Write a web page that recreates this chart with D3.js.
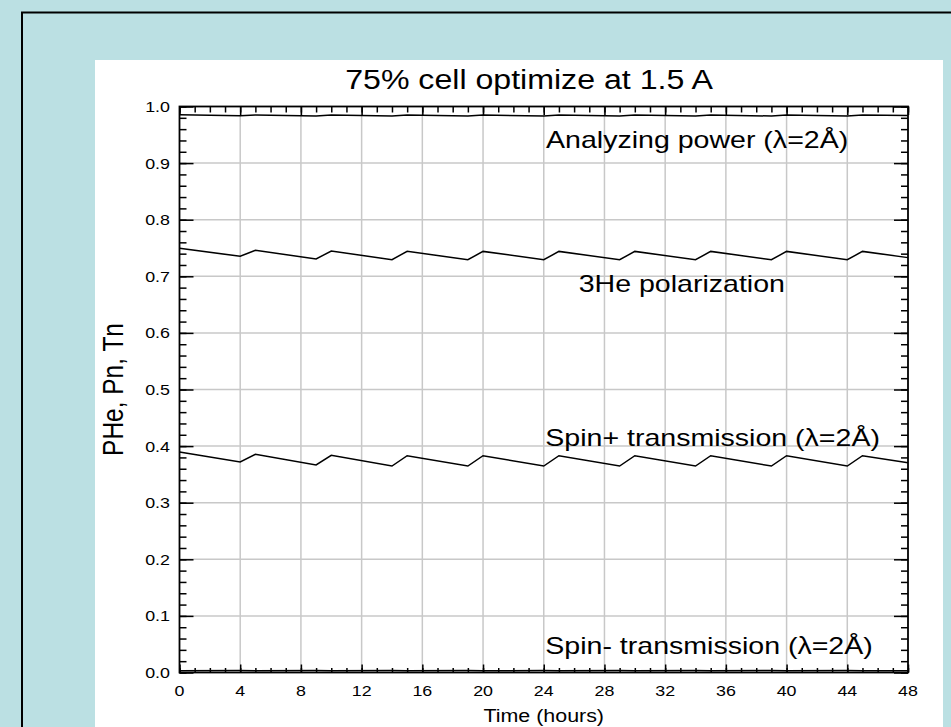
<!DOCTYPE html>
<html><head><meta charset="utf-8">
<script src="https://cdn.jsdelivr.net/npm/d3@7"></script>
<style>
html,body{margin:0;padding:0;background:#bbe0e3;overflow:hidden;}
svg{display:block;}
text{font-family:"Liberation Sans",Arial,sans-serif;fill:#000;}
</style></head>
<body>
<svg id="chart" width="951" height="727"></svg>
<script>
// ---- data ----
const hours          = [0, 4, 5, 9, 10, 14, 15, 19, 20, 24, 25, 29, 30, 34, 35, 39, 40, 44, 45, 48];
const heliumPol      = [0.7495, 0.7353, 0.7460, 0.7306, 0.7447, 0.7293, 0.7442, 0.7293, 0.7440, 0.7292, 0.7440, 0.7292, 0.7440, 0.7292, 0.7440, 0.7292, 0.7440, 0.7292, 0.7440, 0.7330];
const spinPlus       = [0.3896, 0.3719, 0.3855, 0.3666, 0.3837, 0.3648, 0.3830, 0.3648, 0.3830, 0.3648, 0.3830, 0.3648, 0.3830, 0.3648, 0.3830, 0.3648, 0.3830, 0.3648, 0.3830, 0.3705];
const analyzingPower = [0.9856, 0.9838, 0.9852, 0.9834, 0.9850, 0.9832, 0.9850, 0.9832, 0.9850, 0.9832, 0.9850, 0.9832, 0.9850, 0.9832, 0.9850, 0.9832, 0.9850, 0.9832, 0.9850, 0.9840];
const spinMinus      = [0.0030, 0.0034, 0.0031, 0.0035, 0.0031, 0.0035, 0.0031, 0.0035, 0.0031, 0.0035, 0.0031, 0.0035, 0.0031, 0.0035, 0.0031, 0.0035, 0.0031, 0.0035, 0.0031, 0.0033];
const xTicks = [0, 4, 8, 12, 16, 20, 24, 28, 32, 36, 40, 44, 48];
const yTicks = [0.0, 0.1, 0.2, 0.3, 0.4, 0.5, 0.6, 0.7, 0.8, 0.9, 1.0];
const seriesLabels = [
  {text: "Analyzing power (\u03bb=2\u00c5)", t: 24.15, v: 0.927},
  {text: "3He polarization",              t: 26.3,  v: 0.673},
  {text: "Spin+ transmission (\u03bb=2\u00c5)", t: 24.1, v: 0.400},
  {text: "Spin- transmission (\u03bb=2\u00c5)", t: 24.1, v: 0.0325}
];
const titleText = "75% cell optimize at 1.5 A";
const xTitle = "Time (hours)";
const yTitle = "PHe, Pn, Tn";

// ---- layout ----
const SX = 1.19; // horizontal glyph stretch seen in the reference
const svg = d3.select("#chart");
const x = d3.scaleLinear().domain([0, 48]).range([179.5, 908]);
const y = d3.scaleLinear().domain([0, 1]).range([672.5, 106.5]);

// frame & panel
svg.append("rect").attr("x", 0).attr("y", 0).attr("width", 951).attr("height", 727).attr("fill", "#bbe0e3");
svg.append("rect").attr("x", 22).attr("y", 12.5).attr("width", 1000).attr("height", 1000)
  .attr("fill", "none").attr("stroke", "#000").attr("stroke-width", 2);
svg.append("rect").attr("x", 95).attr("y", 60).attr("width", 848).attr("height", 700).attr("fill", "#fff");

const plot = svg.append("g");

// gridlines
plot.append("g").selectAll("line.vx").data(xTicks.slice(1, -1)).join("line")
  .attr("x1", d => x(d)).attr("x2", d => x(d)).attr("y1", y(0)).attr("y2", y(1))
  .attr("stroke", "#c8c8c8").attr("stroke-width", 1.5);
plot.append("g").selectAll("line.hy").data(yTicks.slice(1, -1)).join("line")
  .attr("x1", x(0)).attr("x2", x(48)).attr("y1", d => y(d)).attr("y2", d => y(d))
  .attr("stroke", "#c8c8c8").attr("stroke-width", 1.5);

// curves
const line = d3.line().x((d, i) => x(hours[i])).y(d => y(d));
[analyzingPower, heliumPol, spinPlus, spinMinus].forEach(s => {
  plot.append("path").datum(s).attr("d", line)
    .attr("fill", "none").attr("stroke", "#000").attr("stroke-width", 1.5).attr("stroke-linejoin", "miter");
});

// axes (inward ticks)
function styleAxis(g) {
  g.select(".domain").remove();
  g.selectAll(".tick line").attr("stroke", "#000").attr("stroke-width", 1.5);
  g.selectAll(".tick text").remove();
}
const minorX = x.ticks(48), minorY = y.ticks(50);
plot.append("g").attr("transform", `translate(0,${y(0)})`)
  .call(d3.axisBottom(x).tickValues(minorX).tickSize(-4.5)).call(styleAxis);
plot.append("g").attr("transform", `translate(0,${y(0)})`)
  .call(d3.axisBottom(x).tickValues(xTicks).tickSize(-8)).call(styleAxis);
plot.append("g").attr("transform", `translate(0,${y(1)})`)
  .call(d3.axisTop(x).tickValues(minorX).tickSize(-6)).call(styleAxis);
plot.append("g").attr("transform", `translate(0,${y(1)})`)
  .call(d3.axisTop(x).tickValues(xTicks).tickSize(-8.5)).call(styleAxis);
plot.append("g").attr("transform", `translate(${x(0)},0)`)
  .call(d3.axisLeft(y).tickValues(minorY).tickSize(-7)).call(styleAxis);
plot.append("g").attr("transform", `translate(${x(0)},0)`)
  .call(d3.axisLeft(y).tickValues(yTicks).tickSize(-14)).call(styleAxis);
plot.append("g").attr("transform", `translate(${x(48)},0)`)
  .call(d3.axisRight(y).tickValues(minorY).tickSize(-7)).call(styleAxis);
plot.append("g").attr("transform", `translate(${x(48)},0)`)
  .call(d3.axisRight(y).tickValues(yTicks).tickSize(-14)).call(styleAxis);

// plot frame
plot.append("rect").attr("x", x(0)).attr("y", y(1)).attr("width", x(48) - x(0)).attr("height", y(0) - y(1))
  .attr("fill", "none").attr("stroke", "#000").attr("stroke-width", 1.8);

// text helper with horizontal stretch
function addText(txt, px, py, size, anchor, rot) {
  return svg.append("text")
    .attr("transform", `translate(${px},${py}) scale(${SX},1)` + (rot ? ` rotate(${rot})` : ""))
    .attr("text-anchor", anchor).attr("font-size", size).text(txt);
}

// tick labels
const fmt = d3.format(".1f");
yTicks.forEach(v => addText(fmt(v), 170, y(v) + 5.5, 15, "end"));
xTicks.forEach(v => addText(String(v), x(v), 696, 15, "middle"));

// titles
addText(titleText, 529, 89, 27, "middle");
addText(xTitle, x(24), 722, 18, "middle");
addText(yTitle, 123, (y(0) + y(1)) / 2, 24.5, "middle", -90);

// series labels
seriesLabels.forEach(l => addText(l.text, x(l.t), y(l.v), 24, "start"));
</script>
</body></html>
